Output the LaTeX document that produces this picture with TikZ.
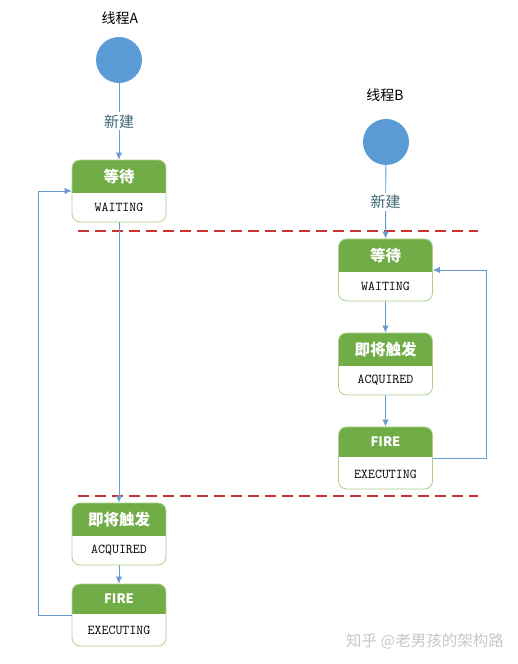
\documentclass[tikz,border=0pt]{standalone}
\usepackage{fontspec}
\newfontfamily\cjk{Noto Sans CJK SC}
\usetikzlibrary{arrows.meta}
\definecolor{hdgreen}{RGB}{112,173,71}
\definecolor{boxgreen}{RGB}{169,208,142}
\definecolor{lnblue}{RGB}{106,155,204}
\definecolor{ballblue}{RGB}{91,155,213}
\definecolor{dashred}{RGB}{200,50,50}
\definecolor{lbltext}{RGB}{64,104,116}

\begin{document}
\begin{tikzpicture}[x=1pt, y=1pt,
  stbox/.style={draw=boxgreen, fill=white, rounded corners=8pt, line width=0.8pt,
    minimum width=94pt, minimum height=62pt, inner sep=0pt,
    path picture={\fill[hdgreen, sharp corners] (path picture bounding box.north west)
      rectangle ([yshift=-#1]path picture bounding box.north east);}},
  stbox/.default=33pt,
  hdtext/.style={text=white, font=\cjk\bfseries\fontsize{15.5}{16}\selectfont, inner sep=0pt},
  bdtext/.style={font=\fontsize{13.5}{13.5}\selectfont\ttfamily, inner sep=0pt},
  ball/.style={circle, fill=ballblue, minimum size=46pt, inner sep=0pt},
  thread/.style={font=\cjk\fontsize{14}{14}\selectfont, inner sep=1pt},
  newlbl/.style={font=\cjk\fontsize{15}{15}\selectfont, text=lbltext, fill=white, inner sep=2pt},
  sepline/.style={draw=dashred, line width=1.3pt, dash pattern=on 11pt off 6pt}]
\useasboundingbox (0,0) rectangle (518,664);
% Thread A
\node[thread] (tA) at (120,646) {线程A};
\node[ball] (cA) at (119,604) {};
\node[stbox] (a1) at (119,473) {};
\node[hdtext] (a1h) at ([yshift=-16.5pt]a1.north) {等待};
\node[bdtext] (a1b) at ([yshift=15pt]a1.south) {WAITING};
\node[stbox] (a2) at (119,130) {};
\node[hdtext] (a2h) at ([yshift=-16.5pt]a2.north) {即将触发};
\node[bdtext] (a2b) at ([yshift=15pt]a2.south) {ACQUIRED};
\node[stbox=30pt] (a3) at (119,49) {};
\node[hdtext, font=\cjk\bfseries\fontsize{13}{13}\selectfont] (a3h) at ([yshift=-15pt]a3.north) {FIRE};
\node[bdtext] (a3b) at ([yshift=16pt]a3.south) {EXECUTING};
% Thread B
\node[thread] (tB) at (385,569) {线程B};
\node[ball] (cB) at (386,522) {};
\node[stbox] (b1) at (385.5,394) {};
\node[hdtext] (b1h) at ([yshift=-16.5pt]b1.north) {等待};
\node[bdtext] (b1b) at ([yshift=15pt]b1.south) {WAITING};
\node[stbox] (b2) at (385.5,300) {};
\node[hdtext] (b2h) at ([yshift=-16.5pt]b2.north) {即将触发};
\node[bdtext] (b2b) at ([yshift=15pt]b2.south) {ACQUIRED};
\node[stbox=30pt] (b3) at (385.5,206) {};
\node[hdtext, font=\cjk\bfseries\fontsize{13}{13}\selectfont] (b3h) at ([yshift=-15pt]b3.north) {FIRE};
\node[bdtext] (b3b) at ([yshift=15pt]b3.south) {EXECUTING};
% Separators
\coordinate (s1l) at (78,433);
\coordinate (s1r) at (478,433);
\coordinate (s2l) at (78,168);
\coordinate (s2r) at (478,168);
\draw[sepline] (s1l)--(s1r);
\draw[sepline] (s2l)--(s2r);
% Arrows
\draw [->, lnblue, line width=0.9pt, >={Latex[length=7pt,width=6.5pt]}] (cA)--(a1.north) node[newlbl, midway] (nA) {新建};
\draw [->, lnblue, line width=0.9pt, >={Latex[length=7pt,width=6.5pt]}] (a1.south)--(a2.north);
\draw [->, lnblue, line width=0.9pt, >={Latex[length=7pt,width=6.5pt]}] (a2.south)--(a3.north);
\draw [->, lnblue, line width=0.9pt, >={Latex[length=7pt,width=6.5pt]}] (a3.west)--++(-33,0)|-(a1.west);
\draw [->, lnblue, line width=0.9pt, >={Latex[length=7pt,width=6.5pt]}] (cB)--(b1.north) node[newlbl, midway] (nB) {新建};
\draw [->, lnblue, line width=0.9pt, >={Latex[length=7pt,width=6.5pt]}] (b1.south)--(b2.north);
\draw [->, lnblue, line width=0.9pt, >={Latex[length=7pt,width=6.5pt]}] (b2.south)--(b3.north);
\draw [->, lnblue, line width=0.9pt, >={Latex[length=7pt,width=6.5pt]}] (b3.east)--++(54,0)|-(b1.east);
% Watermark
\node[font=\cjk\fontsize{15.5}{16}\selectfont, text=black!22] (wm) at (425,23) {知乎 @老男孩的架构路};
\end{tikzpicture}
\end{document}
